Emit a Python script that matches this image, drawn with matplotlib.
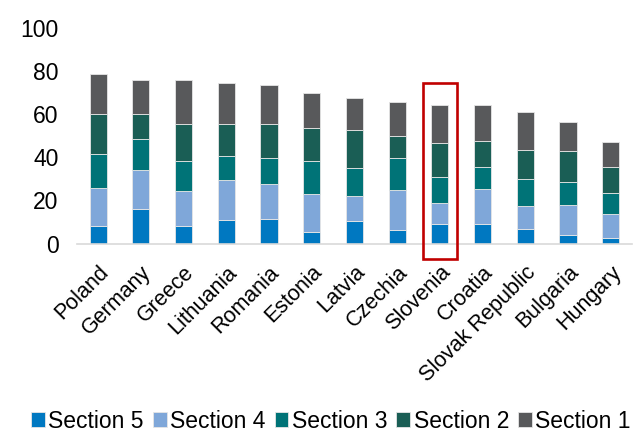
import numpy as np
import matplotlib.pyplot as plt
from matplotlib.patches import Rectangle

plt.rcParams['font.family'] = ['Liberation Sans', 'DejaVu Sans']

countries = ['Poland', 'Germany', 'Greece', 'Lithuania', 'Romania', 'Estonia', 'Latvia',
             'Czechia', 'Slovenia', 'Croatia', 'Slovak Republic', 'Bulgaria', 'Hungary']

# section values (bottom to top of each bar)
section5 = [8.0, 16.1, 8.4, 11.1, 11.3, 5.3, 10.4, 6.1, 8.9, 8.9, 6.6, 3.8, 2.8]
section4 = [17.8, 18.1, 16.2, 18.5, 16.3, 17.9, 11.5, 18.8, 10.1, 16.3, 10.7, 14.0, 10.8]
section3 = [15.7, 14.2, 13.5, 10.9, 12.0, 14.9, 13.1, 14.7, 11.7, 10.3, 12.7, 10.8, 9.7]
section2 = [18.7, 11.5, 17.5, 15.1, 16.0, 15.6, 17.5, 10.4, 16.0, 11.8, 13.5, 14.1, 12.0]
section1 = [18.3, 15.7, 20.0, 18.9, 17.9, 15.9, 14.9, 15.6, 17.6, 16.8, 17.6, 13.8, 11.8]

series = [('Section 5', section5, '#0078c1'),
          ('Section 4', section4, '#7fa7d9'),
          ('Section 3', section3, '#007377'),
          ('Section 2', section2, '#1a5e55'),
          ('Section 1', section1, '#58595b')]

fig = plt.figure(figsize=(6.34, 4.32), dpi=100)
ax = fig.add_axes([0.121, 0.436, 0.876, 0.5])

x = np.arange(len(countries))
bottom = np.zeros(len(countries))
for name, vals, col in series:
    ax.bar(x, vals, 0.4, bottom=bottom, color=col, edgecolor='#e6e6e6',
           linewidth=0.6, label=name, zorder=2)
    bottom += np.array(vals)

# highlight box around Slovenia
hl = countries.index('Slovenia')
ax.add_patch(Rectangle((hl - 0.4, -6.9), 0.8, 81.1, fill=False, edgecolor='#c00000',
                       linewidth=1.9, clip_on=False, zorder=5))

ax.set_xlim(-0.5, len(countries) - 0.5)
ax.set_ylim(0, 100)
ax.set_yticks([0, 20, 40, 60, 80, 100])
ax.set_xticks(x)
ax.set_xticklabels(countries, rotation=45, ha='right', rotation_mode='anchor', fontsize=15.5)
ax.tick_params(axis='y', length=0, labelsize=16.5, pad=13)
ax.tick_params(axis='x', length=0, pad=13)
for s in ['top', 'right', 'left']:
    ax.spines[s].set_visible(False)
ax.spines['bottom'].set_color('#d9d9d9')
ax.spines['bottom'].set_linewidth(1.2)

fig.legend(loc='center', bbox_to_anchor=(0.522, 0.025), ncol=5, frameon=False,
           fontsize=16.5, handlelength=0.6, handleheight=0.6, handletextpad=0.15,
           columnspacing=0.4, borderpad=0)

fig.savefig('out.png', dpi=100)
